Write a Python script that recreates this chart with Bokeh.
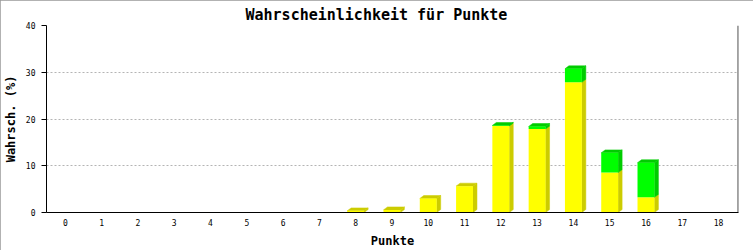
from bokeh.plotting import figure
from bokeh.models import FixedTicker, Span, Range1d, InlineStyleSheet, Title
from bokeh.embed import file_html
from bokeh.resources import INLINE

# ---- data ----
punkte = list(range(19))
tick_labels = [str(i) for i in punkte]
yellow_vals = [0, 0, 0, 0, 0, 0, 0, 0, 0.35, 0.56, 3.0, 5.64, 18.5, 17.84, 27.85, 8.53, 3.24, 0, 0]
green_vals = [0, 0, 0, 0, 0, 0, 0, 0, 0, 0, 0, 0, 0.12, 0.56, 2.89, 4.23, 7.41, 0, 0]
y_ticks = [0, 10, 20, 30, 40]

# ---- style constants ----
HALF_W = 0.233
DX = 0.11
DY = 0.635
Y_FRONT, Y_SIDE = "#ffff00", "#cccc00"
G_FRONT, G_SIDE = "#00ff00", "#00cc00"
MONO = "DejaVu Sans Mono"

p = figure(width=753, height=250, output_backend="svg", toolbar_location=None,
           x_range=Range1d(-0.52, 18.55), y_range=Range1d(0, 40),
           min_border_left=43, min_border_right=15, min_border_top=25, min_border_bottom=36)
p.title = Title(text="Wahrscheinlichkeit für Punkte", align="left", offset=199, standoff=3,
                text_font=MONO, text_font_size="15px", text_font_style="bold",
                text_color="black")
p.outline_line_color = None
p.background_fill_color = "white"
p.border_fill_color = "white"
p.stylesheets = [InlineStyleSheet(css=":host { outline: 2px solid #999999; outline-offset: -2px; }")]

# front faces
yx0, yx1, yb, yt = [], [], [], []
gx0, gx1, gb, gt = [], [], [], []
side_xs, side_ys, side_c = [], [], []
top_xs, top_ys, top_c = [], [], []
for c, yv, gv in zip(punkte, yellow_vals, green_vals):
    total = yv + gv
    if total <= 0:
        continue
    x0, x1 = c - HALF_W, c + HALF_W
    segs = []
    if yv > 0:
        segs.append((0, yv, Y_FRONT, Y_SIDE))
    if gv > 0:
        segs.append((yv, total, G_FRONT, G_SIDE))
    for (b, t, fc, sc) in segs:
        if fc == Y_FRONT:
            yx0.append(x0); yx1.append(x1); yb.append(b); yt.append(t)
        else:
            gx0.append(x0); gx1.append(x1); gb.append(b); gt.append(t)
        side_xs.append([x1, x1 + DX, x1 + DX, x1])
        side_ys.append([b, b + DY, t + DY, t])
        side_c.append(sc)
    top_sc = segs[-1][3]
    top_xs.append([x0, x0 + DX, x1 + DX, x1])
    top_ys.append([total, total + DY, total + DY, total])
    top_c.append(top_sc)

p.patches(side_xs, side_ys, fill_color=side_c, line_color=side_c, line_width=0.5)
p.patches(top_xs, top_ys, fill_color=top_c, line_color=top_c, line_width=0.5)
p.quad(left=yx0, right=yx1, bottom=yb, top=yt, fill_color=Y_FRONT, line_color=None)
p.quad(left=gx0, right=gx1, bottom=gb, top=gt, fill_color=G_FRONT, line_color=None)

# axes
p.xaxis.ticker = FixedTicker(ticks=punkte)
p.xaxis.major_label_overrides = {i: s for i, s in zip(punkte, tick_labels)}
p.xaxis.major_tick_out = 0
p.xaxis.major_tick_in = 0
p.xaxis.minor_tick_out = 0
p.xaxis.minor_tick_in = 0
p.xaxis.axis_label = "Punkte"
p.xaxis.major_label_standoff = 6
p.xaxis.axis_label_standoff = 5

p.yaxis.ticker = FixedTicker(ticks=y_ticks)
p.yaxis.major_tick_out = 5
p.yaxis.major_tick_in = 0
p.yaxis.minor_tick_out = 0
p.yaxis.minor_tick_in = 0
p.yaxis.axis_label = "Wahrsch. (%)"
p.yaxis.major_label_standoff = 6
p.yaxis.axis_label_standoff = 5

for ax in (p.xaxis[0], p.yaxis[0]):
    ax.axis_line_color = "black"
    ax.axis_line_width = 1
    ax.major_tick_line_color = "black"
    ax.major_label_text_font = MONO
    ax.major_label_text_font_size = "8px"
    ax.major_label_text_color = "black"
    ax.axis_label_text_font = MONO
    ax.axis_label_text_font_size = "12px"
    ax.axis_label_text_font_style = "bold"
    ax.axis_label_text_color = "black"

p.xgrid.grid_line_color = None
p.ygrid.grid_line_color = "#b4b4b4"
p.ygrid.grid_line_dash = "2 2"

p.add_layout(Span(location=18.54, dimension="height", line_color="black", line_width=1))

open("out.html", "w").write(file_html(p, INLINE))
